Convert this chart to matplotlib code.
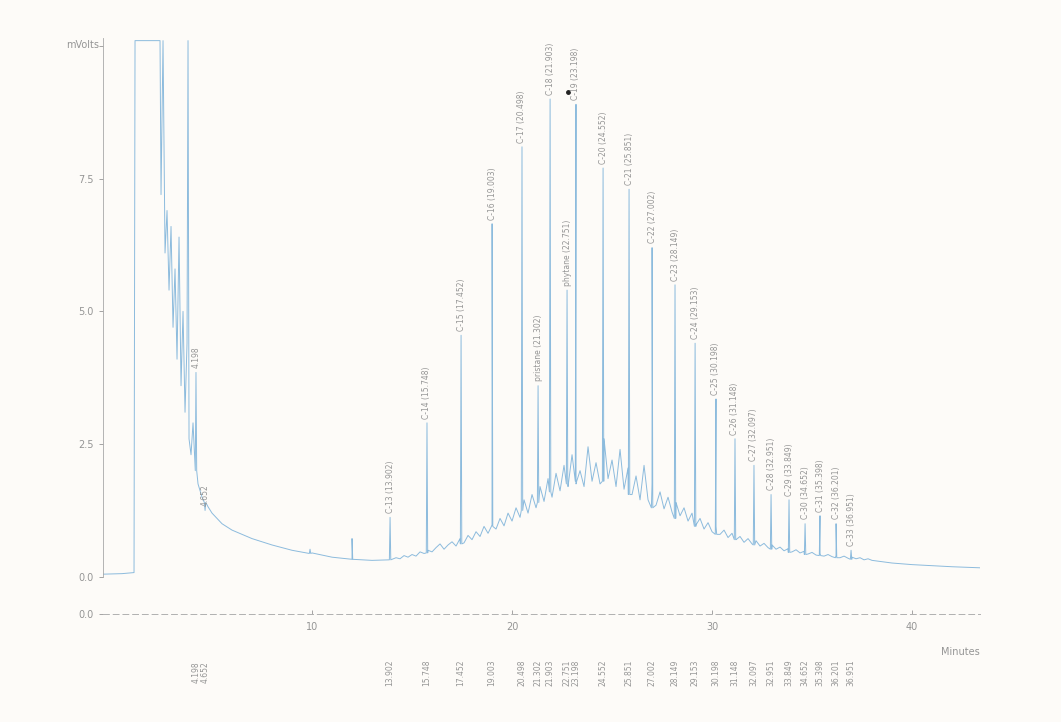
import numpy as np
import matplotlib.pyplot as plt

# === Trace (minutes, mVolts) ===
# solvent front and tail
solvent_t = [-0.45, 0.5, 1.1, 1.15, 1.3, 2.4, 2.45, 2.55, 2.65, 2.75, 2.85, 2.95, 3.05, 3.15, 3.25,
             3.35, 3.45, 3.55, 3.65, 3.75, 3.8, 3.85, 3.95, 4.05, 4.3, 4.5, 4.8, 5.0, 5.5, 6.0,
             7.0, 8.0, 9.0, 10.0, 11.0, 12.0, 13.0]
solvent_v = [0.05, 0.06, 0.08, 10.1, 10.1, 10.1, 7.2, 10.1, 6.1, 6.9, 5.4, 6.6, 4.7, 5.8, 4.1,
             6.4, 3.6, 5.0, 3.1, 4.4, 10.1, 2.6, 2.3, 2.9, 1.75, 1.5, 1.32, 1.2, 1.0, 0.88,
             0.72, 0.60, 0.50, 0.45, 0.37, 0.33, 0.31]

# unresolved hump between 14 and 38 min, every 0.2 min
hump_t0 = 14.0
hump_step = 0.2
hump_v = [0.33, 0.36, 0.34, 0.40, 0.37,
          0.42, 0.39, 0.47, 0.44, 0.50,
          0.47, 0.55, 0.62, 0.52, 0.60,
          0.66, 0.58, 0.72, 0.64, 0.78,
          0.70, 0.85, 0.76, 0.95, 0.82,
          0.98, 0.90, 1.10, 0.96, 1.20,
          1.05, 1.30, 1.12, 1.45, 1.20,
          1.55, 1.30, 1.70, 1.42, 1.85,
          1.50, 1.95, 1.62, 2.10, 1.70,
          2.30, 1.75, 2.00, 1.70, 2.45,
          1.80, 2.15, 1.75, 2.60, 1.85,
          2.20, 1.70, 2.40, 1.65, 2.05,
          1.55, 1.90, 1.45, 2.10, 1.45,
          1.75, 1.35, 1.60, 1.28, 1.50,
          1.22, 1.40, 1.15, 1.30, 1.05,
          1.20, 0.98, 1.10, 0.90, 1.02,
          0.85, 0.95, 0.80, 0.88, 0.74,
          0.82, 0.70, 0.76, 0.65, 0.72,
          0.62, 0.68, 0.58, 0.63, 0.55,
          0.60, 0.52, 0.56, 0.49, 0.53,
          0.47, 0.51, 0.45, 0.48, 0.43,
          0.46, 0.41, 0.44, 0.39, 0.42,
          0.38, 0.40, 0.36, 0.39, 0.35,
          0.37, 0.34, 0.36, 0.32, 0.34,
          0.31]

tail_t = [39.0, 40.0, 41.0, 42.0, 43.4]
tail_v = [0.26, 0.23, 0.21, 0.19, 0.17]

# unlabelled small spikes
minor_t = [9.9, 12.0]
minor_h = [0.52, 0.72]
minor_foot = [0.44, 0.33]

# integrated peaks
peak_names = ['', '', 'C-13', 'C-14', 'C-15', 'C-16', 'C-17', 'pristane', 'C-18', 'phytane',
              'C-19', 'C-20', 'C-21', 'C-22', 'C-23', 'C-24', 'C-25', 'C-26', 'C-27', 'C-28',
              'C-29', 'C-30', 'C-31', 'C-32', 'C-33']
peak_rt = [4.198, 4.652, 13.902, 15.748, 17.452, 19.003, 20.498, 21.302, 21.903, 22.751,
           23.198, 24.552, 25.851, 27.002, 28.149, 29.153, 30.198, 31.148, 32.097, 32.951,
           33.849, 34.652, 35.398, 36.201, 36.951]
peak_top = [3.85, 1.25, 1.12, 2.9, 4.55, 6.65, 8.1, 3.6, 9.0, 5.4,
            8.9, 7.7, 7.3, 6.2, 5.5, 4.4, 3.35, 2.6, 2.1, 1.55,
            1.45, 1.0, 1.15, 1.0, 0.5]
peak_foot = [2.0, 1.4, 0.32, 0.45, 0.62, 0.95, 1.25, 1.4, 1.6, 1.75,
             1.8, 1.8, 1.55, 1.3, 1.1, 0.95, 0.8, 0.7, 0.6, 0.52,
             0.46, 0.42, 0.40, 0.36, 0.33]

yticks = [-0.7, 0.0, 2.5, 5.0, 7.5, 10.0]
ytick_labels = ['0.0', '0.0', '2.5', '5.0', '7.5', '']
xticks = [10, 20, 30, 40]

# build the vertex list of the trace
hump_t = [hump_t0 + i * hump_step for i in range(len(hump_v))]
pts = list(zip(solvent_t, solvent_v)) + list(zip(hump_t, hump_v)) + list(zip(tail_t, tail_v))
hw = 0.035
for t, h, f in zip(peak_rt + minor_t, peak_top + minor_h, peak_foot + minor_foot):
    pts += [(t - hw, f), (t, h), (t + hw, f)]
pts.sort()
tr_t = np.array([p[0] for p in pts])
tr_v = np.array([p[1] for p in pts])

txt = '#959595'
fig = plt.figure(figsize=(10.61, 7.22), dpi=100, facecolor='#fdfbf8')
ax = fig.add_axes([0.0971, 0.1496, 0.8266, 0.7978])
ax.set_facecolor('#fdfbf8')

ax.plot(tr_t, tr_v, color='#8cbbdd', linewidth=0.7)
ax.plot([22.8], [9.13], marker='o', markersize=2.5, color='#222222')

for name, t, h in zip(peak_names, peak_rt, peak_top):
    lab = '%.3f' % t if name == '' else '%s (%.3f)' % (name, t)
    ax.text(t, h + 0.08, lab, rotation=90, ha='center', va='bottom', fontsize=5.5,
            color=txt, clip_on=False)
    ax.text(t, -1.8, '%.3f' % t, rotation=90, ha='center', va='center', fontsize=5.5,
            color=txt, clip_on=False)

ax.set_xlim(-0.45, 43.4)
ax.set_ylim(-0.7, 10.15)
ax.set_xticks(xticks)
ax.set_xticklabels([str(x) for x in xticks])
ax.set_yticks(yticks)
ax.set_yticklabels(ytick_labels)
ax.tick_params(axis='both', labelsize=7, colors=txt, length=3, width=0.6)
ax.tick_params(axis='x', direction='in', pad=6)

for spine in ['top', 'right']:
    ax.spines[spine].set_visible(False)
ax.spines['left'].set_bounds(0, 10.15)
ax.spines['left'].set_color('#a8a8a8')
ax.spines['left'].set_linewidth(0.6)
ax.spines['bottom'].set_linestyle((0, (6, 4)))
ax.spines['bottom'].set_color('#b0b0b0')
ax.spines['bottom'].set_linewidth(0.7)

ax.text(-1.45, 10.02, 'mVolts', ha='center', va='center', fontsize=7, color=txt, clip_on=False)
ax.text(42.4, -1.42, 'Minutes', ha='center', va='center', fontsize=7, color=txt, clip_on=False)

plt.savefig('out.png', dpi=100, facecolor=fig.get_facecolor())
